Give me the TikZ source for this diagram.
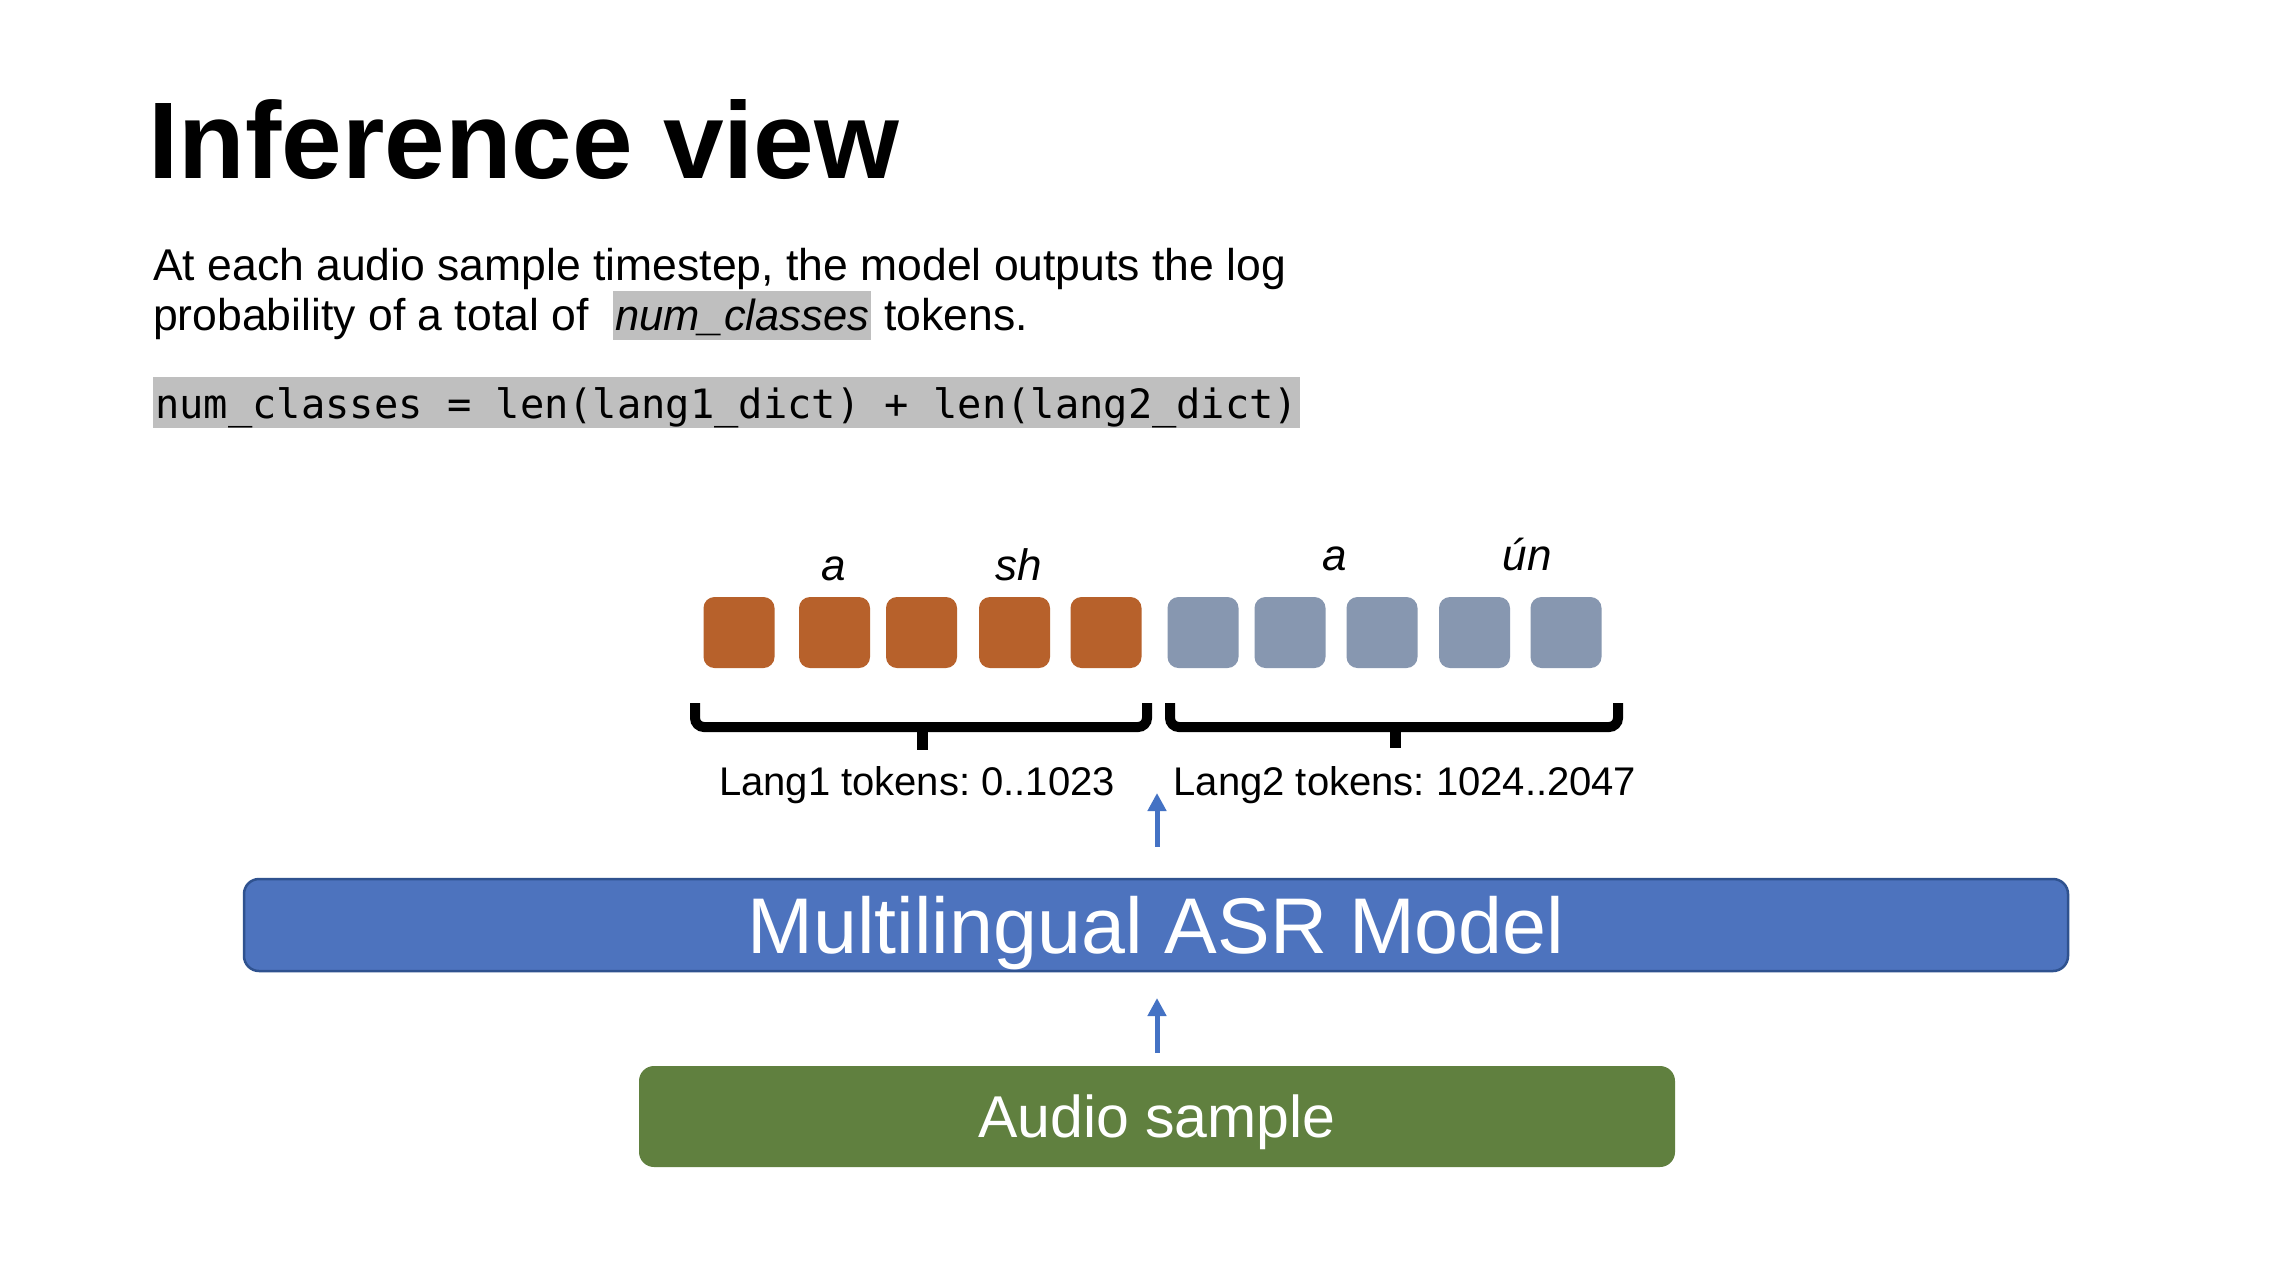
\documentclass[tikz,border=0pt]{standalone}
\usepackage{fontspec}
\setmainfont{Liberation Sans}
\setmonofont{DejaVu Sans Mono}
\usetikzlibrary{arrows.meta}
\frenchspacing

\definecolor{tokA}{HTML}{B7612B}
\definecolor{tokB}{HTML}{8797B0}
\definecolor{modelblue}{HTML}{4D73BE}
\definecolor{modeledge}{HTML}{2F528F}
\definecolor{audiogreen}{HTML}{60803F}
\definecolor{arrowblue}{HTML}{4472C4}
\definecolor{hlgray}{HTML}{BFBFBF}

\begin{document}
\begin{tikzpicture}[x=1pt, y=-1pt,
  body/.style={anchor=base west, inner sep=0pt, font=\fontsize{44.5}{50}\selectfont},
  tokbox/.style={rectangle, rounded corners=11pt, minimum width=71pt, minimum height=71pt, inner sep=0pt},
  toklabel/.style={anchor=base, inner sep=0pt, font=\fontsize{44}{50}\selectfont\itshape},
  rangelabel/.style={anchor=base, inner sep=0pt, font=\fontsize{40}{46}\selectfont},
  bracket/.style={line width=10pt, rounded corners=9pt, black},
  flow/.style={draw=arrowblue, line width=5pt, -{Triangle[width=18pt,length=18pt]}},
  stage/.style={rectangle, rounded corners=15pt, text=white, inner sep=0pt, text depth=0pt}
]
% canvas
\path[use as bounding box, fill=white] (0,0) rectangle (2290,1286);

% heading
\node[anchor=base west, inner sep=0pt, font=\fontsize{109}{120}\selectfont\bfseries] (title) at (148,178) {Inference view};

% description
\node[body] (line1) at (153,280) {At each audio sample timestep, the model outputs the log};
\node[body] (line2) at (153,330) {probability of a total of};
\node[body, fill=hlgray, inner xsep=2pt, text height=39pt, text depth=10pt,
      font=\fontsize{43.5}{50}\selectfont\itshape] (numcls) at (613,330) {num\_classes};
\node[body] (line2b) at (884,330) {tokens.};

% formula
\node[anchor=base west, fill=hlgray, inner xsep=2pt, inner ysep=0pt, text height=41pt, text depth=10pt,
      font=\fontsize{40.4}{48}\selectfont\ttfamily] (code) at (153,418)
  {num\_classes = len(lang1\_dict) + len(lang2\_dict)};

% token vocabulary
\foreach \x [count=\i] in {739,834.5,921.5,1014.5,1106}
  \node[tokbox, fill=tokA] (o\i) at (\x,632.5) {};
\foreach \x [count=\i] in {1203,1290,1382,1474.5,1566}
  \node[tokbox, fill=tokB] (g\i) at (\x,632.5) {};

\node[toklabel] (la) at (834,580) {a};
\node[toklabel] (lsh) at (1019,580) {sh};
\node[toklabel] (ga) at (1335,570) {a};
\node[toklabel] (gun) at (1527,570) {ún};

% braces under the two groups
\draw[bracket] (695,703) -- (695,727) -- (1147,727) -- (1147,703);
\draw[line width=11pt] (922,727) -- (922,750);
\draw[bracket] (1170,703) -- (1170,727) -- (1618,727) -- (1618,703);
\draw[line width=11pt] (1395,727) -- (1395,748);

\node[rangelabel] (r1) at (917,795) {Lang1 tokens: 0..1023};
\node[rangelabel] (r2) at (1405,795) {Lang2 tokens: 1024..2047};

% pipeline
\node[stage, fill=modelblue, draw=modeledge, line width=2.5pt, minimum width=1824pt, minimum height=92pt,
      text height=57pt, font=\fontsize{79}{90}\selectfont] (model) at (1156,925) {Multilingual ASR Model};
\node[stage, fill=audiogreen, minimum width=1036pt, minimum height=101pt,
      text height=42pt, font=\fontsize{59}{68}\selectfont] (audio) at (1157,1116.5) {Audio sample};

\coordinate (outtip) at (1157,793);
\coordinate (intip) at (1157,998);
\draw[flow] ([yshift=31pt]model.north -| outtip) -- (outtip);
\draw[flow] ([yshift=13pt]audio.north -| intip) -- (intip);
\end{tikzpicture}
\end{document}
